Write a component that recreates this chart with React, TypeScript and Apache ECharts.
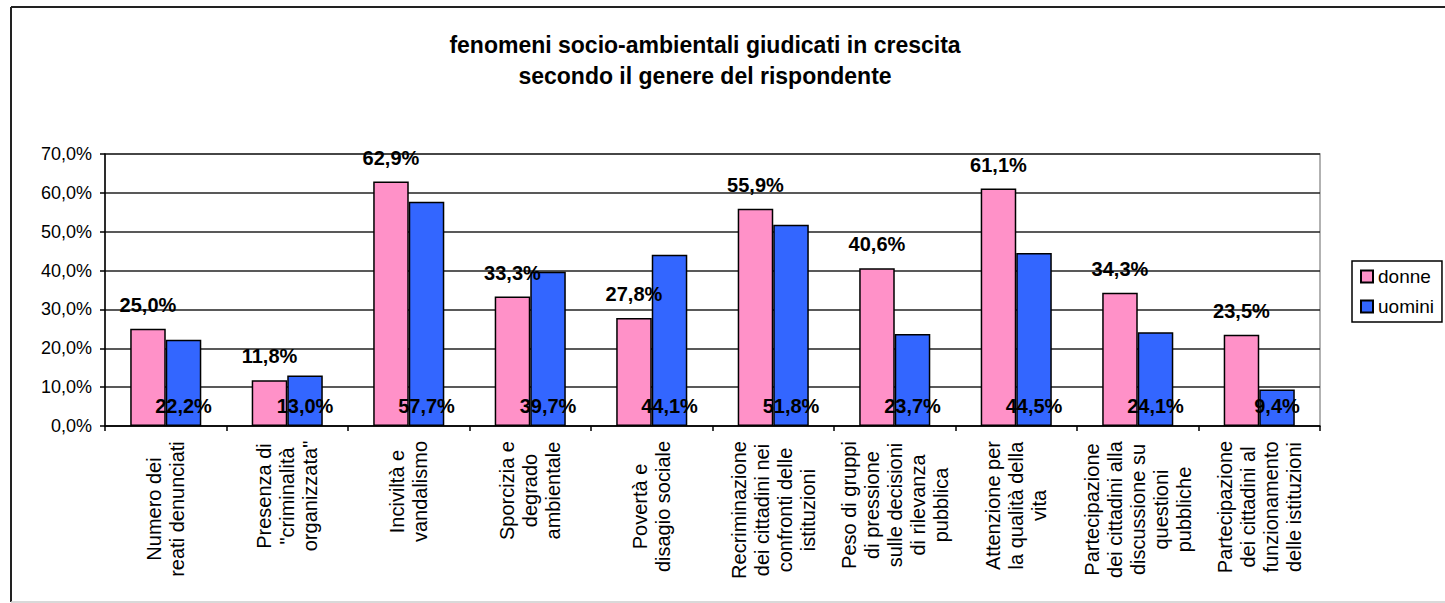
import React, { useEffect, useRef } from "react";
import * as echarts from "echarts";

const categories: string[] = [
  "Numero dei\nreati denunciati",
  "Presenza di\n\"criminalità\norganizzata\"",
  "Inciviltà e\nvandalismo",
  "Sporcizia e\ndegrado\nambientale",
  "Povertà e\ndisagio sociale",
  "Recriminazione\ndei cittadini nei\nconfronti delle\nistituzioni",
  "Peso di gruppi\ndi pressione\nsulle decisioni\ndi rilevanza\npubblica",
  "Attenzione per\nla qualità della\nvita",
  "Partecipazione\ndei cittadini alla\ndiscussione su\nquestioni\npubbliche",
  "Partecipazione\ndei cittadini al\nfunzionamento\ndelle istituzioni",
];

const donne: number[] = [25.0, 11.8, 62.9, 33.3, 27.8, 55.9, 40.6, 61.1, 34.3, 23.5];
const uomini: number[] = [22.2, 13.0, 57.7, 39.7, 44.1, 51.8, 23.7, 44.5, 24.1, 9.4];

const seriesNames: string[] = ["donne", "uomini"];
const titleLines: string[] = [
  "fenomeni socio-ambientali giudicati in crescita",
  "secondo il genere del rispondente",
];
const yMin = 0;
const yMax = 70;
const yStep = 10;

const FONT = "'Liberation Sans', Arial, Helvetica, sans-serif";
const XLABEL_SIZE = 20;

const fmtPct = (v: number) => v.toFixed(1).replace(".", ",") + "%";

function maxLineWidth(text: string): number {
  const canvas = document.createElement("canvas");
  const ctx = canvas.getContext("2d");
  if (!ctx) return 0;
  ctx.font = `${XLABEL_SIZE}px ${FONT}`;
  return Math.max(...text.split("\n").map((l) => ctx.measureText(l).width));
}

export default function App() {
  const ref = useRef<HTMLDivElement>(null);

  useEffect(() => {
    if (!ref.current) return;
    const chart = echarts.init(ref.current, null, { renderer: "svg" });
    const catData = categories.map((c) => ({
      value: c,
      textStyle: {
        align: "center",
        verticalAlign: "middle",
        fontSize: XLABEL_SIZE,
        lineHeight: 23,
        color: "#000",
        fontFamily: FONT,
        padding: [0, Math.round(maxLineWidth(c)), 0, 0],
      },
    }));
    chart.setOption({
      animation: false,
      backgroundColor: "#fff",
      textStyle: { fontFamily: FONT },
      title: {
        text: titleLines.join("\n"),
        left: 700,
        top: 24,
        textAlign: "center",
        textStyle: {
          fontSize: 23,
          fontWeight: "bold",
          lineHeight: 31,
          color: "#000",
          fontFamily: FONT,
        },
      },
      graphic: [
        {
          type: "line",
          shape: { x1: 11, y1: 7, x2: 11, y2: 602 },
          style: { stroke: "#222", lineWidth: 2 },
        },
        {
          type: "line",
          shape: { x1: 11, y1: 7, x2: 1445, y2: 7 },
          style: { stroke: "#222", lineWidth: 2 },
        },
        {
          type: "line",
          shape: { x1: 11, y1: 602, x2: 1445, y2: 602 },
          style: { stroke: "#cccccc", lineWidth: 1.5 },
        },
      ],
      legend: {
        data: seriesNames,
        orient: "vertical",
        left: 1352,
        top: 261,
        padding: [6, 8, 6, 8],
        itemWidth: 12,
        itemHeight: 12,
        itemGap: 11,
        icon: "rect",
        borderColor: "#000",
        borderWidth: 1.5,
        textStyle: { fontSize: 19, color: "#000", fontFamily: FONT },
      },
      grid: {
        left: 105,
        right: 125,
        top: 154,
        bottom: 177,
        outerBoundsMode: "none",
        show: true,
        borderColor: "#999",
        borderWidth: 1.5,
      },
      xAxis: {
        type: "category",
        data: catData,
        axisLine: { show: true, lineStyle: { color: "#000", width: 1.5 } },
        axisTick: { show: true, length: 5, lineStyle: { color: "#000", width: 1.5 } },
        axisLabel: {
          rotate: 90,
          interval: 0,
          margin: 15,
          align: "center",
          color: "#000",
          fontSize: XLABEL_SIZE,
          lineHeight: 23,
          fontFamily: FONT,
        },
      },
      yAxis: {
        type: "value",
        min: yMin,
        max: yMax,
        interval: yStep,
        axisLine: { show: true, lineStyle: { color: "#000", width: 1.5 } },
        axisTick: { show: true, length: 5, lineStyle: { color: "#000", width: 1.5 } },
        axisLabel: {
          margin: 13,
          color: "#000",
          fontSize: 18,
          fontFamily: FONT,
          formatter: (v: number) => fmtPct(v),
        },
        splitLine: { show: true, lineStyle: { color: "#222", width: 1.5 } },
      },
      series: [
        {
          name: seriesNames[0],
          type: "bar",
          data: donne,
          barGap: "0%",
          barCategoryGap: "41.5%",
          itemStyle: { color: "#ff91c8", borderColor: "#000", borderWidth: 1.5 },
          label: {
            show: true,
            position: "top",
            distance: 14,
            color: "#000",
            fontSize: 20,
            fontWeight: "bold",
            fontFamily: FONT,
            formatter: (p: any) => fmtPct(p.value),
          },
        },
        {
          name: seriesNames[1],
          type: "bar",
          data: uomini,
          barGap: "0%",
          barCategoryGap: "41.5%",
          itemStyle: { color: "#3366ff", borderColor: "#000", borderWidth: 1.5 },
          label: {
            show: true,
            position: "insideBottom",
            distance: 10,
            color: "#000",
            fontSize: 20,
            fontWeight: "bold",
            fontFamily: FONT,
            formatter: (p: any) => fmtPct(p.value),
          },
        },
      ],
    });
    return () => chart.dispose();
  }, []);

  return (
    <div
      ref={ref}
      style={{ position: "absolute", left: 0, top: 0, width: 1445, height: 603 }}
    />
  );
}
